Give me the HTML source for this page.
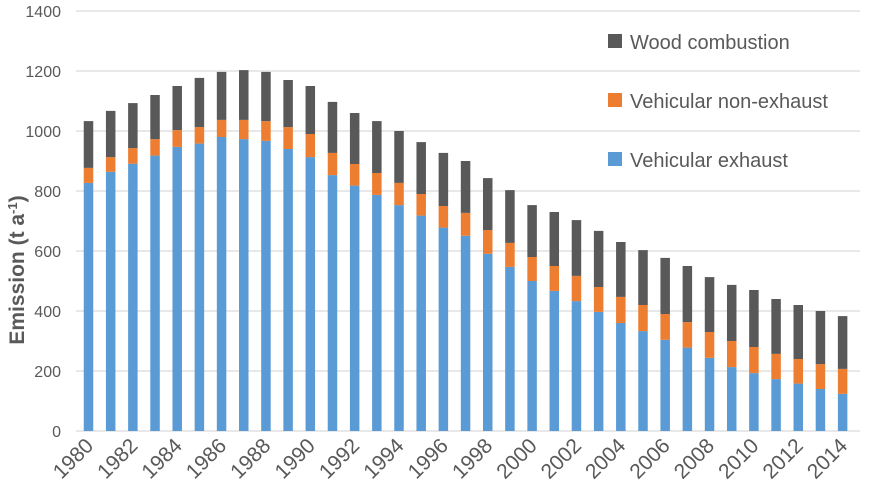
<!DOCTYPE html>
<html><head><meta charset="utf-8"><style>
body{margin:0;background:#fff}
svg{display:block;font-family:"Liberation Sans",sans-serif}
</style></head><body>
<svg id="chart" width="869" height="503" viewBox="0 0 869 503">
<g id="grid"></g>
<g id="yticks"></g>
<g id="bars"></g>
<g id="xticks"></g>
<text transform="translate(24,270) rotate(-90)" text-anchor="middle" font-size="21" font-weight="bold" fill="#595959">Emission (t a<tspan baseline-shift="super" font-size="13">-1</tspan>)</text>
<g>
<g><rect x="608" y="34" width="14" height="14" fill="#595959"/><text x="630" y="49" font-size="20" fill="#595959">Wood combustion</text></g>
<g><rect x="608" y="93" width="14" height="14" fill="#ed7d31"/><text x="630" y="108" font-size="20" fill="#595959">Vehicular non-exhaust</text></g>
<g><rect x="608" y="152" width="14" height="14" fill="#5b9bd5"/><text x="630" y="167" font-size="20" fill="#595959">Vehicular exhaust</text></g>
</g>
</svg>
<script>
const years=[1980,1981,1982,1983,1984,1985,1986,1987,1988,1989,1990,1991,1992,1993,1994,1995,1996,1997,1998,1999,2000,2001,2002,2003,2004,2005,2006,2007,2008,2009,2010,2011,2012,2013,2014];
const exhaust=[827,864,891,918,947,958,980,973,967,940,913,853,818,787,753,718,678,651,591,547,500,467,433,397,360,333,304,278,244,213,193,173,158,140,124];
const nonExhaust=[50,49,52,55,56,55,57,64,66,73,77,74,72,73,74,72,72,76,79,80,80,83,84,83,87,87,86,85,86,87,87,84,82,83,83];
const wood=[156,154,150,147,147,164,160,166,164,157,160,170,170,173,173,173,177,173,173,176,173,180,186,187,183,183,187,187,183,187,190,183,180,177,176];
const yTicks=[0,200,400,600,800,1000,1200,1400];
const ns="http://www.w3.org/2000/svg";
const y0=431,yScale=0.3,x0=88.5,dx=22.18,bw=9.5;
const yPos=v=>y0-v*yScale;
const xPos=i=>x0+i*dx;
const grid=document.getElementById('grid'),yt=document.getElementById('yticks'),bars=document.getElementById('bars'),xt=document.getElementById('xticks');
yTicks.forEach(t=>{
 const l=document.createElementNS(ns,'line');
 
 
 l.setAttribute('x1',76);l.setAttribute('x2',860);l.setAttribute('y1',yPos(t));l.setAttribute('y2',yPos(t));
 l.setAttribute('stroke','#d0d0d0');l.setAttribute('stroke-width','1');
 grid.appendChild(l);
 const tx=document.createElementNS(ns,'text');
 
 
 tx.setAttribute('x',61);tx.setAttribute('y',yPos(t)+6);tx.setAttribute('text-anchor','end');
 tx.setAttribute('font-size','16');tx.setAttribute('fill','#595959');tx.textContent=t;
 yt.appendChild(tx);
});
function rect(x,y,h,c,name){
 const r=document.createElementNS(ns,'rect');
 
 
 r.setAttribute('x',x);r.setAttribute('y',y);r.setAttribute('width',bw);r.setAttribute('height',h);r.setAttribute('fill',c);
 bars.appendChild(r);
}
years.forEach((yr,i)=>{
 const x=xPos(i)-bw/2;
 const a=exhaust[i],b=a+nonExhaust[i],c=b+wood[i];
 rect(x,yPos(a),a*yScale,'#5b9bd5','bar-exhaust-'+yr);
 rect(x,yPos(b),nonExhaust[i]*yScale,'#ed7d31','bar-non-exhaust-'+yr);
 rect(x,yPos(c),wood[i]*yScale,'#595959','bar-wood-'+yr);
 if(i%2===0){
  const tx=document.createElementNS(ns,'text');
  
  
  const px=xPos(i)+6,py=447;
  tx.setAttribute('x',px);tx.setAttribute('y',py);tx.setAttribute('text-anchor','end');
  tx.setAttribute('transform','rotate(-45 '+px+' '+py+')');
  tx.setAttribute('font-size','21');tx.setAttribute('fill','#595959');tx.textContent=yr;
  xt.appendChild(tx);
 }
});
</script>
</body></html>
